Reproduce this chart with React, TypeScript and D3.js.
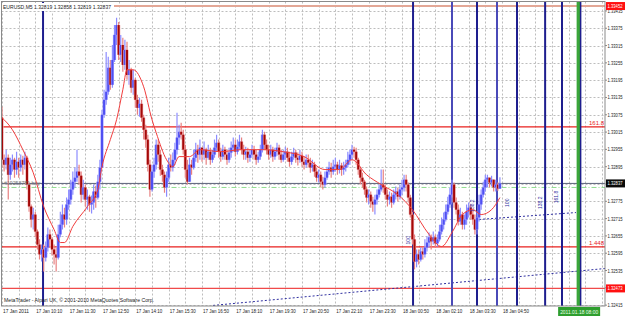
import React from "react";
import * as d3 from "d3";

const W = 625;
const H = 316;

// ---------- DATA ----------
const firstOpen = 1.33065;
const closes = [
  1.32919, 1.32902, 1.32926, 1.32867, 1.32902, 1.32919, 1.32885, 1.32912, 1.32892, 1.32919,
  1.32902, 1.32926, 1.32833, 1.32757, 1.32712, 1.32729, 1.3267, 1.32625, 1.32591, 1.32608,
  1.3258, 1.32615, 1.3266, 1.32643, 1.32608, 1.32591, 1.3258, 1.3266, 1.32694, 1.32729,
  1.32712, 1.32764, 1.32781, 1.32816, 1.32843, 1.32857, 1.32878, 1.32864, 1.32798, 1.32823,
  1.32781, 1.32791, 1.32764, 1.32771, 1.32809, 1.32788, 1.32843, 1.32892, 1.33075, 1.33127,
  1.33155, 1.33238, 1.33179, 1.33265, 1.33352, 1.33386, 1.33283, 1.33317, 1.33248, 1.333,
  1.33213, 1.33231, 1.33169, 1.33196, 1.33127, 1.33099, 1.33113, 1.33065, 1.33023, 1.32989,
  1.32902, 1.32816, 1.32878, 1.32902, 1.32971, 1.32937, 1.32885, 1.32867, 1.32823, 1.32857,
  1.32902, 1.32892, 1.32919, 1.32954, 1.32996, 1.33016, 1.33006, 1.32954, 1.32885, 1.32843,
  1.32902, 1.32892, 1.32926, 1.32954, 1.32937, 1.32961, 1.32937, 1.32954, 1.32926, 1.32947,
  1.32919, 1.32937, 1.32961, 1.32978, 1.32947, 1.3293, 1.32954, 1.32937, 1.32919, 1.32944,
  1.32961, 1.32971, 1.32947, 1.32964, 1.32982, 1.32954, 1.32937, 1.32947, 1.32926, 1.32937,
  1.32954, 1.32937, 1.32919, 1.3293, 1.32954, 1.33006, 1.32971, 1.32954, 1.32937, 1.32954,
  1.3293, 1.32947, 1.32961, 1.32937, 1.32919, 1.32937, 1.32947, 1.32926, 1.32912, 1.3293,
  1.32944, 1.32926, 1.32919, 1.32933, 1.32912, 1.32902, 1.32919, 1.32909, 1.32892, 1.32902,
  1.32878, 1.32857, 1.32867, 1.32843, 1.32833, 1.32857, 1.32878, 1.32892, 1.32878, 1.32895,
  1.32902, 1.32885, 1.32899, 1.32885, 1.32892, 1.32902, 1.32919, 1.32937, 1.32954, 1.32947,
  1.32919, 1.32885, 1.32857, 1.32843, 1.32816, 1.32788, 1.32798, 1.32774, 1.32764, 1.32781,
  1.32798, 1.32816, 1.32833, 1.32823, 1.32798, 1.32781, 1.32791, 1.32771, 1.32798, 1.32809,
  1.32791, 1.32816, 1.32823, 1.3285, 1.32833, 1.32788, 1.32729, 1.32643, 1.32566, 1.32591,
  1.32573, 1.32601, 1.32591, 1.32615, 1.32632, 1.3265, 1.32636, 1.3265, 1.32629, 1.32643,
  1.3267, 1.32694, 1.32712, 1.32739, 1.32764, 1.32798, 1.32833, 1.32771, 1.32746, 1.32705,
  1.32729, 1.32694, 1.32712, 1.32739, 1.32753, 1.32729, 1.32712, 1.32677, 1.32719, 1.32764,
  1.32798, 1.32823, 1.3285, 1.32857, 1.3284, 1.3285, 1.32823, 1.32833, 1.32819, 1.32837,
];
const highs = [
  1.33103, 1.32937, 1.32954, 1.32937, 1.32926, 1.32937, 1.32926, 1.32947, 1.32926, 1.32937,
  1.32933, 1.32947, 1.32933, 1.3284, 1.32764, 1.32753, 1.32739, 1.32677, 1.32643, 1.32625,
  1.32625, 1.32636, 1.32684, 1.32677, 1.3265, 1.32625, 1.32615, 1.32694, 1.32739, 1.32764,
  1.32753, 1.32788, 1.32816, 1.3285, 1.32878, 1.32892, 1.32954, 1.32902, 1.32878, 1.3285,
  1.32833, 1.32816, 1.32798, 1.32795, 1.32833, 1.32829, 1.32867, 1.32919, 1.33092, 1.33162,
  1.33293, 1.33276, 1.33265, 1.33317, 1.33386, 1.33411, 1.33397, 1.33352, 1.33342, 1.33335,
  1.33328, 1.33265, 1.33238, 1.33231, 1.33203, 1.33144, 1.33134, 1.33127, 1.33075, 1.3304,
  1.33006, 1.32919, 1.32902, 1.32926, 1.32989, 1.32989, 1.32954, 1.32902, 1.32878, 1.32878,
  1.32926, 1.32937, 1.32944, 1.32978, 1.33082, 1.3304, 1.33047, 1.33023, 1.32971, 1.32919,
  1.32926, 1.32919, 1.32954, 1.32978, 1.32971, 1.32989, 1.32961, 1.32982, 1.32961, 1.32971,
  1.32961, 1.32954, 1.32989, 1.33006, 1.32989, 1.32961, 1.32971, 1.32964, 1.32954, 1.32961,
  1.32982, 1.32996, 1.32989, 1.32989, 1.33006, 1.32996, 1.32971, 1.32964, 1.32961, 1.32954,
  1.32971, 1.32968, 1.32954, 1.32947, 1.32971, 1.33023, 1.33016, 1.32989, 1.32971, 1.32971,
  1.32964, 1.32961, 1.32978, 1.32971, 1.32954, 1.32954, 1.32964, 1.32961, 1.32947, 1.32947,
  1.32961, 1.32954, 1.32944, 1.32954, 1.32947, 1.3293, 1.32937, 1.32937, 1.32926, 1.32919,
  1.32912, 1.32892, 1.32885, 1.32878, 1.3286, 1.32878, 1.32895, 1.32912, 1.32909, 1.32919,
  1.32926, 1.32912, 1.32919, 1.32909, 1.32912, 1.32919, 1.32947, 1.32954, 1.32971, 1.32964,
  1.32961, 1.32926, 1.32895, 1.32874, 1.3285, 1.32826, 1.32816, 1.32809, 1.32791, 1.32798,
  1.32816, 1.32833, 1.32885, 1.32885, 1.32833, 1.32816, 1.32809, 1.32805, 1.32816, 1.32826,
  1.32823, 1.32833, 1.3285, 1.32867, 1.32867, 1.3284, 1.32798, 1.32739, 1.3266, 1.32608,
  1.32608, 1.32615, 1.32615, 1.32643, 1.32653, 1.32667, 1.3266, 1.3267, 1.3266, 1.3266,
  1.32694, 1.32719, 1.32736, 1.32764, 1.32791, 1.32823, 1.3285, 1.3284, 1.32788, 1.32764,
  1.32753, 1.32739, 1.32729, 1.32764, 1.32771, 1.32764, 1.32746, 1.32729, 1.32739, 1.32798,
  1.32816, 1.32843, 1.32867, 1.32867, 1.32857, 1.32864, 1.3285, 1.3285, 1.3284, 1.32858,
];
const lows = [
  1.32892, 1.32878, 1.32885, 1.32781, 1.3285, 1.32878, 1.32857, 1.32867, 1.32857, 1.32878,
  1.32867, 1.32885, 1.32816, 1.32739, 1.32684, 1.32677, 1.3265, 1.32608, 1.32573, 1.32566,
  1.32532, 1.32566, 1.32601, 1.32615, 1.32587, 1.32556, 1.32532, 1.32573, 1.3265, 1.32677,
  1.32684, 1.32694, 1.32746, 1.32764, 1.32798, 1.32823, 1.32843, 1.32833, 1.32771, 1.32781,
  1.32757, 1.32746, 1.32739, 1.32733, 1.32746, 1.32753, 1.32781, 1.32816, 1.32892, 1.33065,
  1.3311, 1.33144, 1.33162, 1.33169, 1.33258, 1.33317, 1.33265, 1.33258, 1.33224, 1.33231,
  1.33196, 1.33179, 1.33151, 1.33144, 1.33099, 1.33075, 1.33068, 1.33051, 1.32989, 1.32961,
  1.32878, 1.32791, 1.32809, 1.32857, 1.32885, 1.32912, 1.32864, 1.32843, 1.32805, 1.32791,
  1.32843, 1.32878, 1.32878, 1.32902, 1.32937, 1.32971, 1.32989, 1.32937, 1.32857, 1.32833,
  1.3285, 1.32867, 1.32885, 1.32912, 1.32909, 1.32919, 1.32912, 1.32919, 1.32902, 1.32919,
  1.32902, 1.32909, 1.32926, 1.32947, 1.32926, 1.32912, 1.32919, 1.32919, 1.32902, 1.32909,
  1.32926, 1.32947, 1.3293, 1.32937, 1.32954, 1.32937, 1.32919, 1.32919, 1.32909, 1.32912,
  1.32926, 1.32919, 1.32902, 1.32909, 1.32919, 1.32944, 1.32954, 1.32937, 1.32919, 1.32926,
  1.32912, 1.32919, 1.32933, 1.32919, 1.32909, 1.32912, 1.32919, 1.32912, 1.32895, 1.32902,
  1.32919, 1.32909, 1.32899, 1.32909, 1.32895, 1.32885, 1.32892, 1.32892, 1.32874, 1.32878,
  1.3286, 1.32843, 1.3284, 1.32823, 1.32816, 1.32823, 1.3285, 1.32867, 1.32857, 1.32867,
  1.32878, 1.32867, 1.32871, 1.32864, 1.32867, 1.32878, 1.32892, 1.32902, 1.32919, 1.32926,
  1.32902, 1.32867, 1.32833, 1.32823, 1.32798, 1.32771, 1.32764, 1.32753, 1.32739, 1.32729,
  1.32764, 1.32788, 1.32809, 1.32805, 1.32781, 1.32757, 1.32764, 1.32753, 1.32764, 1.32781,
  1.32774, 1.32781, 1.32798, 1.32809, 1.32809, 1.32771, 1.32719, 1.32625, 1.32539, 1.32546,
  1.32556, 1.32566, 1.32573, 1.3258, 1.32601, 1.32615, 1.32608, 1.32625, 1.32615, 1.32618,
  1.32636, 1.3266, 1.32677, 1.32705, 1.32729, 1.32753, 1.32788, 1.32753, 1.32729, 1.32691,
  1.32694, 1.32677, 1.32677, 1.32694, 1.32719, 1.32712, 1.32694, 1.3266, 1.3266, 1.32705,
  1.32746, 1.32788, 1.32809, 1.32823, 1.32823, 1.32826, 1.32809, 1.32809, 1.32812, 1.32819,
];

// moving average readings (bar index, value)
const maBars = [0, 5, 10, 15, 20, 25, 28, 30, 34, 41, 46, 48, 52, 55, 58, 60, 63, 68, 72, 74, 79, 82, 85, 90, 95, 105, 115, 125, 135, 145, 155, 162, 168, 175, 182, 190, 197, 205, 211, 216, 221, 226, 230, 235, 239];
const maValues = [1.33065, 1.33023, 1.32954, 1.32874, 1.32757, 1.32677, 1.32632, 1.32632, 1.32688, 1.32757, 1.32816, 1.32895, 1.32989, 1.33058, 1.33162, 1.33231, 1.33231, 1.33172, 1.33058, 1.33013, 1.32919, 1.32895, 1.3293, 1.3293, 1.32954, 1.32947, 1.32954, 1.32954, 1.32947, 1.3293, 1.32885, 1.32885, 1.32919, 1.32867, 1.32833, 1.32798, 1.32746, 1.3266, 1.32618, 1.32667, 1.32729, 1.32746, 1.32729, 1.32746, 1.32788];

const priceTicks = [1.33435, 1.33375, 1.33315, 1.33255, 1.33195, 1.33135, 1.33075, 1.33015, 1.32955, 1.32895, 1.32835, 1.32775, 1.32715, 1.32655, 1.32595, 1.32535, 1.32475, 1.32415];
const timeTickBars = [0, 16, 32, 48, 64, 80, 96, 112, 128, 144, 160, 176, 192, 208, 224, 240];
const timeTickLabels = ["17 Jan 2011", "17 Jan 10:10", "17 Jan 11:30", "17 Jan 12:50", "17 Jan 14:10", "17 Jan 15:30", "17 Jan 16:50", "17 Jan 18:10", "17 Jan 19:30", "17 Jan 20:50", "17 Jan 22:10", "17 Jan 23:30", "18 Jan 00:50", "18 Jan 02:10", "18 Jan 03:30", "18 Jan 04:50"];

const symbolTitle = "EURUSD,M5  1.32819 1.32858 1.32819 1.32837";
const copyright = "MetaTrader - Alpari UK, © 2001-2010 MetaQuotes Software Corp.";
const orderLabel = "#19253781 buy";

const lastPrice = 1.32837;
const orderPrice = 1.32823;
const topLevel = 1.33452;
const bottomLevel = 1.32473;
const fiboLevels = [1.33033, 1.32617];
const fiboLabels = ["161.8", "1.448"];

const vlineBars = [19.7, 197.3, 216, 228, 237.6, 247.2, 260.7, 268.8];
const vlineLight = [false, false, true, false, true, false, false, false];
const greenLineBar = 277.5;
const greenLineLabel = "2011.01.18 08:00";

const trendBars = [101.3, 289.5];
const trendPrices = [1.32414, 1.32542];
const trend2Bars = [229, 275.5];
const trend2Prices = [1.32712, 1.32736];

const rotLabelBars = [196, 226.5, 243.5, 259, 267];
const rotLabelPrices = [1.3264, 1.3276, 1.3277, 1.3277, 1.3279];
const rotLabels = ["100", "138.2", "100", "138.2", "161.8"];

export default function App() {
  const x = d3.scaleLinear().domain([0, 288]).range([2, 602]);
  const y = d3.scaleLinear().domain([1.32412, 1.33466]).range([306, 2]);
  const left = 1.5, right = 605, top = 1.5, bottom = 306;

  const bars = closes.map((c, i) => {
    const o = i === 0 ? firstOpen : closes[i - 1];
    return { i, o, c, h: Math.max(highs[i], o, c), l: Math.min(lows[i], o, c) };
  });

  const maLine = d3
    .line<number>()
    .x((_, k) => x(maBars[k]))
    .y((v) => y(v))
    .curve(d3.curveMonotoneX)(maValues);

  const gridBars = d3.range(0, 289, 8);
  const font = "'Liberation Sans', Arial, sans-serif";
  const axisX = 607.5;
  const axisLen = 15;

  return (
    <svg width={W} height={H} style={{ position: "absolute", left: 0, top: 0, background: "#fff" }} fontFamily={font}>
      <rect x={0} y={0} width={W} height={H} fill="#fff" />
      <defs>
        <clipPath id="plot">
          <rect x={left} y={top} width={right - left} height={bottom - top} />
        </clipPath>
      </defs>
      {/* grid */}
      <g stroke="#bdbdbd" strokeWidth={1} strokeDasharray="2,2">
        {gridBars.map((b) => (
          <line key={"gx" + b} x1={Math.round(x(b)) + 0.5} x2={Math.round(x(b)) + 0.5} y1={top} y2={bottom} />
        ))}
        {priceTicks.map((p) => (
          <line key={"gy" + p} x1={left} x2={right} y1={Math.round(y(p)) + 0.5} y2={Math.round(y(p)) + 0.5} />
        ))}
      </g>
      <g clipPath="url(#plot)">
        {/* horizontal levels */}
        <line x1={x(52)} x2={right} y1={y(topLevel)} y2={y(topLevel)} stroke="#e3a796" strokeWidth={2} />
        {fiboLevels.map((p, k) => (
          <line key={"f" + k} x1={left} x2={right} y1={y(p)} y2={y(p)} stroke="#e8201e" strokeWidth={1.3} />
        ))}
        <line x1={left} x2={right} y1={y(bottomLevel)} y2={y(bottomLevel)} stroke="#f04a4a" strokeWidth={1.2} />
        <line x1={left} x2={right} y1={y(lastPrice)} y2={y(lastPrice)} stroke="#5a6078" strokeWidth={1} />
        <line x1={left} x2={right} y1={y(orderPrice)} y2={y(orderPrice)} stroke="#8fdc8f" strokeWidth={1} strokeDasharray="5,2,1,2" />
        {/* trend lines */}
        <line x1={x(trendBars[0])} x2={x(trendBars[1])} y1={y(trendPrices[0])} y2={y(trendPrices[1])} stroke="#3030a0" strokeWidth={1} strokeDasharray="2,2" />
        <line x1={x(trend2Bars[0])} x2={x(trend2Bars[1])} y1={y(trend2Prices[0])} y2={y(trend2Prices[1])} stroke="#3030a0" strokeWidth={1} strokeDasharray="2,2" />
        {/* green line */}
        <rect x={x(greenLineBar) - 3.5} y={top} width={3.5} height={bottom - top} fill="#3aa63a" />
        {/* vertical lines */}
        {vlineBars.map((b, k) => (
          <line key={"v" + k} x1={x(b)} x2={x(b)} y1={top} y2={bottom} stroke={vlineLight[k] ? "#4a4ab8" : "#1e1e8e"} strokeWidth={2} />
        ))}
        <line x1={x(greenLineBar) + 0.5} x2={x(greenLineBar) + 0.5} y1={top} y2={bottom} stroke="#1e1e8e" strokeWidth={1.5} />
        {/* candles */}
        {bars.map((b) => {
          const bull = b.c >= b.o;
          const cx = x(b.i);
          const yTop = y(Math.max(b.o, b.c));
          const yBot = y(Math.min(b.o, b.c));
          const bh = Math.max(1, yBot - yTop);
          return (
            <g key={"c" + b.i}>
              <line x1={cx} x2={cx} y1={y(b.h)} y2={y(b.l)} stroke={bull ? "#8c8cff" : "#e88080"} strokeWidth={1.2} />
              <rect x={cx - 1.6} y={yTop} width={3.2} height={bh} fill={bull ? "#a8a8ff" : "#f0a8a8"} />
              <rect x={cx - 1} y={yTop} width={2} height={bh} fill={bull ? "#4f4ff2" : "#a40808"} />
            </g>
          );
        })}
        {/* MA */}
        <path d={maLine || ""} fill="none" stroke="#f03c3c" strokeWidth={1} />
        {/* fibo labels */}
        {fiboLevels.map((p, k) => (
          <text key={"fl" + k} x={right - 1} y={y(p) - 1.5} fontSize={6} fill="#e8201e" textAnchor="end">{fiboLabels[k]}</text>
        ))}
        {rotLabels.map((t, k) => (
          <text key={"rl" + k} transform={`translate(${x(rotLabelBars[k])},${y(rotLabelPrices[k])}) rotate(-90)`} fontSize={5} fill="#3030a0" textAnchor="middle">{t}</text>
        ))}
        <text x={4} y={y(lastPrice) + 2} fontSize={5.5} fill="#7a7a7a" textLength={36} lengthAdjust="spacingAndGlyphs">{orderLabel}</text>
      </g>
      {/* frame */}
      <rect x={left} y={top} width={right - left} height={bottom - top} fill="none" stroke="#8a8a8a" strokeWidth={1} />
      {/* title */}
      <rect x={2} y={3} width={112} height={8} fill="#fff" />
      <text x={3} y={9} fontSize={5.8} fill="#222" textLength={108} lengthAdjust="spacingAndGlyphs">{symbolTitle}</text>
      <text x={4} y={302} fontSize={5.5} fill="#222" textLength={150} lengthAdjust="spacingAndGlyphs">{copyright}</text>
      {/* price axis */}
      {priceTicks.map((p) => (
        <g key={"pt" + p}>
          <line x1={right} x2={right + 2} y1={y(p)} y2={y(p)} stroke="#8a8a8a" />
          <text x={axisX} y={y(p) + 2} fontSize={5.6} fill="#222" textLength={axisLen} lengthAdjust="spacingAndGlyphs">{p.toFixed(5)}</text>
        </g>
      ))}
      <rect x={606} y={y(topLevel) - 4} width={19} height={8} fill="#ff1010" />
      <text x={axisX} y={y(topLevel) + 2} fontSize={5.6} fill="#fff" textLength={axisLen} lengthAdjust="spacingAndGlyphs">{topLevel.toFixed(5)}</text>
      <rect x={606} y={y(lastPrice) - 4} width={19} height={8} fill="#0a0a0a" />
      <text x={axisX} y={y(lastPrice) + 2} fontSize={5.6} fill="#fff" textLength={axisLen} lengthAdjust="spacingAndGlyphs">{lastPrice.toFixed(5)}</text>
      <rect x={606} y={y(bottomLevel) - 4} width={19} height={8} fill="#ff1010" />
      <text x={axisX} y={y(bottomLevel) + 2} fontSize={5.6} fill="#fff" textLength={axisLen} lengthAdjust="spacingAndGlyphs">{bottomLevel.toFixed(5)}</text>
      {/* time axis */}
      {timeTickBars.map((b, k) => (
        <text key={"tt" + b} x={x(b) + 1} y={313} fontSize={5.8} fill="#222" textLength={26} lengthAdjust="spacingAndGlyphs">{timeTickLabels[k]}</text>
      ))}
      <rect x={x(greenLineBar) - 22} y={307} width={42} height={9} fill="#2e9e2e" />
      <text x={x(greenLineBar) - 20} y={313.5} fontSize={5.8} fill="#eaffea" textLength={38} lengthAdjust="spacingAndGlyphs">{greenLineLabel}</text>
    </svg>
  );
}
